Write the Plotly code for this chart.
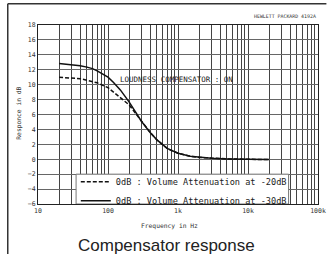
import plotly.graph_objects as go

# ---- data ----
freq_30 = [20, 30, 40, 50, 60, 70, 80, 100, 120, 150, 200, 250, 300, 400, 500, 700,
           1000, 1500, 2000, 3000, 5000, 10000, 20000]
resp_30 = [12.85, 12.7, 12.55, 12.35, 12.15, 11.85, 11.55, 11.0, 10.3, 9.3, 7.7, 6.2,
           5.1, 3.6, 2.6, 1.45, 0.8, 0.4, 0.25, 0.12, 0.05, 0.0, -0.05]
freq_20 = [20, 30, 40, 50, 60, 70, 80, 100, 120, 150, 200, 250, 300, 400, 500, 700,
           1000, 1500, 2000, 3000, 5000, 10000, 20000]
resp_20 = [11.0, 10.9, 10.8, 10.6, 10.45, 10.25, 10.0, 9.6, 9.0, 8.3, 7.3, 6.1,
           5.1, 3.6, 2.6, 1.45, 0.8, 0.4, 0.25, 0.12, 0.05, 0.0, -0.05]
name_20 = "0dB : Volume Attenuation at -20dB"
name_30 = "0dB : Volume Attenuation at -30dB"

x_tickvals = [10, 20, 30, 40, 50, 60, 70, 80, 90,
              100, 200, 300, 400, 500, 600, 700, 800, 900,
              1000, 2000, 3000, 4000, 5000, 6000, 7000, 8000, 9000,
              10000, 20000, 30000, 40000, 50000, 60000, 70000, 80000, 90000, 100000]
x_ticktext = ["10", "", "", "", "", "", "", "", "",
              "100", "", "", "", "", "", "", "", "",
              "1k", "", "", "", "", "", "", "", "",
              "10k", "", "", "", "", "", "", "", "", "100k"]
y_tickvals = [-6, -4, -2, 0, 2, 4, 6, 8, 10, 12, 14, 16, 18]

mono = "DejaVu Sans Mono"

fig = go.Figure()
fig.add_trace(go.Scatter(x=freq_20, y=resp_20, mode="lines", name=name_20,
                         line=dict(color="#111", width=1.5, dash="4px,2px")))
fig.add_trace(go.Scatter(x=freq_30, y=resp_30, mode="lines", name=name_30,
                         line=dict(color="#111", width=1.5)))

fig.update_layout(
    width=333, height=254,
    margin=dict(l=38, r=7, t=25, b=50, pad=0),
    paper_bgcolor="white", plot_bgcolor="white",
    showlegend=True,
    legend=dict(x=0.135, y=0.205, xanchor="left", yanchor="top",
                bgcolor="rgba(0,0,0,0)", borderwidth=0,
                font=dict(family=mono, size=8.6, color="#222"),
                tracegroupgap=0, itemwidth=30),
    font=dict(family=mono, size=6.5, color="#333"),
)
fig.update_xaxes(type="log", range=[1, 5], tickmode="array",
                 tickvals=x_tickvals, ticktext=x_ticktext,
                 showgrid=True, gridcolor="#444", gridwidth=1,
                 showline=True, linecolor="#222", linewidth=1, mirror=True,
                 ticks="", tickfont=dict(family=mono, size=6.5, color="#333"),
                 ticklabeloverflow="allow", zeroline=False)
fig.update_yaxes(range=[-6, 18], tickmode="array", tickvals=y_tickvals,
                 showgrid=True, gridcolor="#666", gridwidth=1,
                 showline=True, linecolor="#222", linewidth=1, mirror=True,
                 ticks="", tickfont=dict(family=mono, size=6.5, color="#333"),
                 zeroline=False)

# legend box hiding the grid behind the legend
fig.add_shape(type="rect", xref="x", yref="y", x0=35, x1=38000, y0=-6, y1=-2,
              fillcolor="white", line=dict(color="#777", width=1), layer="between")

fig.add_annotation(x=2.14, y=10.7, xref="x", yref="y", text="LOUDNESS COMPENSATOR : ON",
                   showarrow=False, xanchor="left", yanchor="middle",
                   font=dict(family=mono, size=7.5, color="#222"))
fig.add_annotation(x=1.0, y=1.025, xref="paper", yref="paper", text="HEWLETT PACKARD 4192A",
                   showarrow=False, xanchor="right", yanchor="bottom",
                   font=dict(family=mono, size=4.9, color="#333"))
fig.add_annotation(x=0.47, y=-0.125, xref="paper", yref="paper", text="Frequency in Hz",
                   showarrow=False, xanchor="center", yanchor="middle",
                   font=dict(family=mono, size=6.3, color="#333"))
fig.add_annotation(x=-0.068, y=0.51, xref="paper", yref="paper", text="Responce in dB",
                   showarrow=False, textangle=-90, xanchor="center", yanchor="middle",
                   font=dict(family=mono, size=6.3, color="#333"))
fig.add_annotation(x=0.46, y=-0.23, xref="paper", yref="paper", text="Compensator response",
                   showarrow=False, xanchor="center", yanchor="middle",
                   font=dict(family="Liberation Sans", size=17, color="#222"))

# outer frame (top and left edges)
fig.add_shape(type="line", xref="paper", yref="paper", x0=-0.108, x1=1.03, y0=1.119, y1=1.119,
              line=dict(color="#333", width=1.5))
fig.add_shape(type="line", xref="paper", yref="paper", x0=-0.108, x1=-0.108, y0=-0.3, y1=1.119,
              line=dict(color="#333", width=1.5))

fig.write_html("out.html", post_script="document.body.style.margin='0';",
               config={"displayModeBar": False})
